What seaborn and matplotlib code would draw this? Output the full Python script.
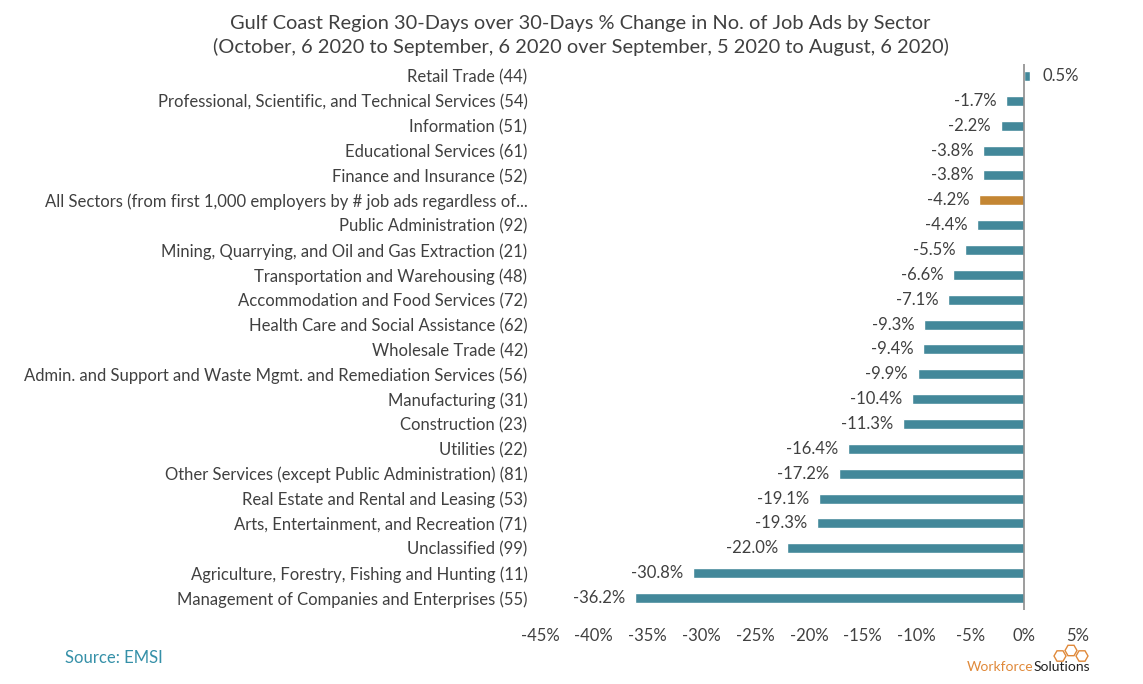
import numpy as np
import pandas as pd
import seaborn as sns
import matplotlib.pyplot as plt
from matplotlib.patches import RegularPolygon

sectors = [
    'Retail Trade (44)',
    'Professional, Scientific, and Technical Services (54)',
    'Information (51)',
    'Educational Services (61)',
    'Finance and Insurance (52)',
    'All Sectors (from first 1,000 employers by # job ads regardless of...',
    'Public Administration (92)',
    'Mining, Quarrying, and Oil and Gas Extraction (21)',
    'Transportation and Warehousing (48)',
    'Accommodation and Food Services (72)',
    'Health Care and Social Assistance (62)',
    'Wholesale Trade (42)',
    'Admin. and Support and Waste Mgmt. and Remediation Services (56)',
    'Manufacturing (31)',
    'Construction (23)',
    'Utilities (22)',
    'Other Services (except Public Administration) (81)',
    'Real Estate and Rental and Leasing (53)',
    'Arts, Entertainment, and Recreation (71)',
    'Unclassified (99)',
    'Agriculture, Forestry, Fishing and Hunting (11)',
    'Management of Companies and Enterprises (55)',
]
pct_change = [0.5, -1.7, -2.2, -3.8, -3.8, -4.2, -4.4, -5.5, -6.6, -7.1, -9.3,
              -9.4, -9.9, -10.4, -11.3, -16.4, -17.2, -19.1, -19.3, -22.0,
              -30.8, -36.2]
x_ticks = [-45, -40, -35, -30, -25, -20, -15, -10, -5, 0, 5]

TEAL = '#3590a8'
ORANGE = '#dc8a1b'
TXT = '#404040'

df = pd.DataFrame({'sector': sectors, 'pct': pct_change})
df['group'] = np.where(df['sector'].str.startswith('All Sectors'), 'all', 'sector')

sns.set_theme(style='white')
plt.rcParams['font.family'] = ['Lato', 'DejaVu Sans']

fig = plt.figure(figsize=(11.43, 6.84), dpi=100)
ax = fig.add_axes([0.4724, 0.1076, 0.4708, 0.7994])

sns.barplot(data=df, x='pct', y='sector', hue='group', orient='h',
            palette={'sector': TEAL, 'all': ORANGE}, width=0.4,
            dodge=False, legend=False, ax=ax)

ax.set_xlim(-45, 5)
ax.set_ylim(len(sectors) - 0.5, -0.5)
ax.set_xticks(x_ticks)
ax.set_xticklabels([f'{t}%' for t in x_ticks], fontsize=12, color=TXT)
ax.tick_params(axis='y', labelsize=12, labelcolor=TXT, length=0, pad=9)
ax.tick_params(axis='x', length=0, pad=13)
ax.set_xlabel('')
ax.set_ylabel('')
for s in ax.spines.values():
    s.set_visible(False)
ax.axvline(0, color='#8c8c8c', lw=1.2, ymin=0, ymax=1)

for i, v in enumerate(pct_change):
    if v >= 0:
        ax.annotate(f'{v:.1f}%', (v, i), xytext=(9, 0), textcoords='offset points',
                    ha='left', va='center', fontsize=12, color=TXT)
    else:
        ax.annotate(f'{v:.1f}%', (v, i), xytext=(-7, 0), textcoords='offset points',
                    ha='right', va='center', fontsize=12, color=TXT)

fig.text(0.508, 0.965, 'Gulf Coast Region 30-Days over 30-Days % Change in No. of Job Ads by Sector',
         ha='center', va='center', fontsize=14.4, color=TXT)
fig.text(0.508, 0.932, '(October, 6 2020 to September, 6 2020 over September, 5 2020 to August, 6 2020)',
         ha='center', va='center', fontsize=14.4, color=TXT)

fig.text(0.057, 0.038, 'Source: EMSI', ha='left', va='center', fontsize=12, color=TEAL)

# logo
fig.text(0.904, 0.025, 'Workforce', ha='right', va='center', fontsize=10, color='#e0893a')
fig.text(0.904, 0.025, 'Solutions', ha='left', va='center', fontsize=10, color='#222222')
for cx, cy in [(10.60, 0.28), (10.71, 0.335), (10.82, 0.28)]:
    fig.patches.append(RegularPolygon((cx, cy), numVertices=6, radius=0.06,
                                      orientation=np.pi / 6, transform=fig.dpi_scale_trans,
                                      fill=False, edgecolor='#e0893a', lw=1.0))

fig.savefig('out.png', dpi=100)
